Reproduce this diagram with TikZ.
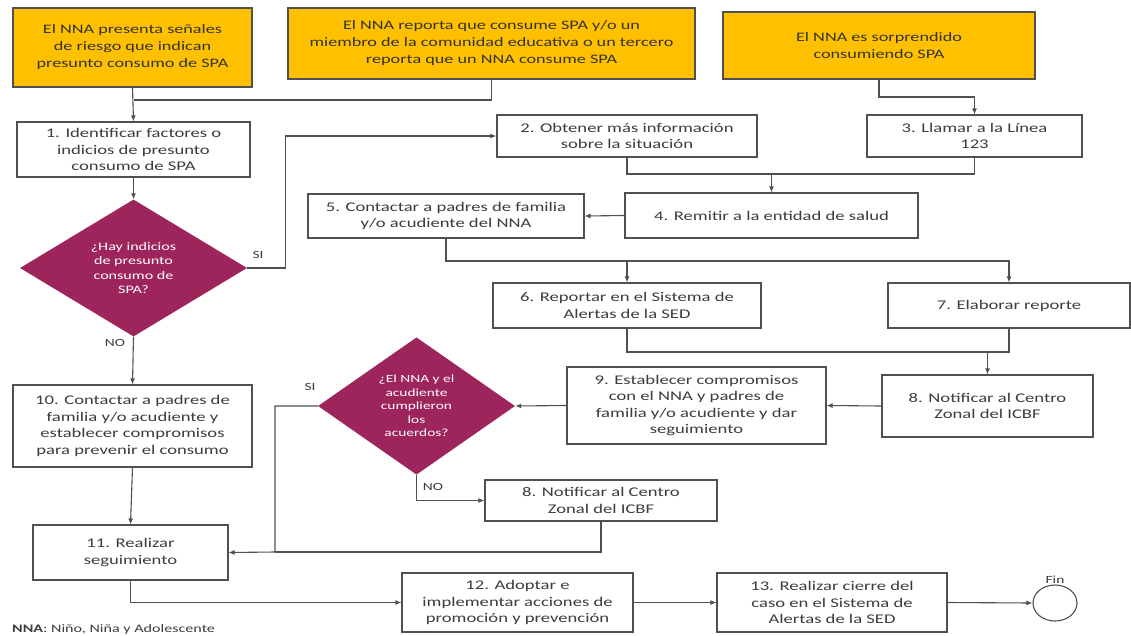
\documentclass[tikz,border=0pt]{standalone}
\usepackage{fontspec}
\setmainfont{Carlito}[FakeStretch=1.4]
\usetikzlibrary{shapes.geometric,arrows.meta}
\definecolor{gold}{RGB}{255,192,0}
\definecolor{plum}{RGB}{158,36,92}
\definecolor{linegray}{RGB}{80,80,80}
\definecolor{txt}{RGB}{60,60,60}
\tikzset{
  base/.style={draw=linegray, line width=1.1pt, align=center, inner sep=2pt, text=txt,
    font=\fontsize{13.3}{16.5}\selectfont},
  ybox/.style={base, fill=gold, text=black!80, font=\fontsize{13}{17}\selectfont},
  wbox/.style={base, fill=white},
  dec/.style={diamond, draw=none, fill=plum, text=white, align=center, inner sep=0pt},
  conn/.style={draw=linegray, line width=1.1pt},
  arr/.style={conn, -{Latex[length=6pt,width=5pt]}},
  lbl/.style={text=txt, font=\fontsize{11}{13}\selectfont},
}
\newcommand{\bx}[6]{\node[#1, minimum width=#4pt, minimum height=#5pt] (#2) at (#3) {#6};}
\begin{document}
\begin{tikzpicture}[x=1pt,y=-1pt]
\useasboundingbox (0,0) rectangle (1131,635);
% top boxes
\bx{ybox}{y1}{132.5,47.5}{239}{79}{El NNA presenta señales\\de riesgo que indican\\presunto consumo de SPA}
\bx{ybox}{y2}{491.5,43.5}{407}{71}{El NNA reporta que consume SPA y/o un\\miembro de la comunidad educativa o un tercero\\reporta que un NNA consume SPA}
\bx{ybox}{y3}{879,45.5}{312}{67}{El NNA es sorprendido\\consumiendo SPA}
% boxes
\bx{wbox}{b1}{133.5,149.5}{233}{55}{1. Identificar factores o\\indicios de presunto\\consumo de SPA}
\node[dec, minimum width=227pt, minimum height=123pt, font=\fontsize{11.5}{14.5}\selectfont] (d1) at (133.5,268) {¿Hay indicios\\de presunto\\consumo de\\SPA?};
\bx{wbox}{b2}{627,136}{260}{42}{2. Obtener más información\\sobre la situación}
\bx{wbox}{b3}{974.5,136}{215}{42}{3. Llamar a la Línea\\123}
\bx{wbox}{b4}{771.5,215.5}{293}{45}{4. Remitir a la entidad de salud}
\bx{wbox}{b5}{446,216}{276}{44}{5. Contactar a padres de familia\\y/o acudiente del NNA}
\bx{wbox}{b6}{627,305.5}{268}{45}{6. Reportar en el Sistema de\\Alertas de la SED}
\bx{wbox}{b7}{1009,305.5}{242}{45}{7. Elaborar reporte}
\bx{wbox}{b8a}{987.5,406}{211}{62}{8. Notificar al Centro\\Zonal del ICBF}
\bx{wbox}{b9}{696.5,405.5}{259}{77}{9. Establecer compromisos\\con el NNA y padres de\\familia y/o acudiente y dar\\seguimiento}
\node[dec, minimum width=197pt, minimum height=122pt, font=\fontsize{11}{13.5}\selectfont] (d2) at (416.5,406) {¿El NNA y el\\acudiente\\cumplieron\\los\\acuerdos?};
\bx{wbox}{b8b}{601,500.5}{232}{41}{8. Notificar al Centro\\Zonal del ICBF}
\bx{wbox}{b10}{132.5,426}{239}{82}{10. Contactar a padres de\\familia y/o acudiente y\\establecer compromisos\\para prevenir el consumo}
\bx{wbox}{b11}{130.5,552.5}{195}{55}{11. Realizar\\seguimiento}
\bx{wbox}{b12}{517.5,602.5}{231}{59}{12. Adoptar e\\implementar acciones de\\promoción y prevención}
\bx{wbox}{b13}{832,602.5}{230}{59}{13. Realizar cierre del\\caso en el Sistema de\\Alertas de la SED}
\node[ellipse, draw=linegray, line width=1.1pt, minimum width=44pt, minimum height=36pt, inner sep=0pt] (fin) at (1055,603) {};
\node[lbl, anchor=south, inner sep=1pt] (finl) at (fin.north) {Fin};
% junctions
\coordinate (j1) at (133.5,100);
\coordinate (j3a) at (879,97);
\coordinate (j2) at (771.5,174);
\coordinate (j3) at (627,261);
\coordinate (j4) at (987.5,352);
\coordinate (j5) at (275,552);
% connectors
\draw[arr] (y1.south) -- (b1.north);
\draw[conn] (y2.south) |- (j1);
\draw[arr] (y3.south) -- (j3a) -| (b3.north);
\draw[arr] (b1.south) -- (d1.north);
\draw[arr] (d1.east) -- ++(38,0) |- (b2.west);
\draw[conn] (b2.south) |- (j2);
\draw[conn] (b3.south) |- (j2);
\draw[arr] (j2) -- (b4.north);
\draw[arr] (b4.west) -- (b5.east);
\draw[arr] (b5.south) |- (j3) -| (b7.north);
\draw[arr] (j3) -- (b6.north);
\draw[conn] (b6.south) |- (j4);
\draw[conn] (b7.south) |- (j4);
\draw[arr] (j4) -- (b8a.north);
\draw[arr] (b8a.west) -- (b9.east);
\draw[arr] (b9.west) -- (d2.east);
\draw[arr] (d2.south) |- (b8b.west);
\draw[arr] (d2.west) -- (d2.west -| j5) -- (j5) -- (b11.east);
\draw[conn] (b8b.south) |- (j5);
\draw[arr] (d1.south) -- (b10.north);
\draw[arr] (b10.south) -- (b11.north);
\draw[arr] (b11.south) |- (b12.west);
\draw[arr] (b12.east) -- (b13.west);
\draw[arr] (b13.east) -- (fin.west);
% labels
\node[lbl] (si1) at (258,255) {SI};
\node[lbl] (no1) at (115,343) {NO};
\node[lbl] (si2) at (310,387) {SI};
\node[lbl] (no2) at (433,487) {NO};
\node[anchor=west, text=txt, font=\fontsize{11.5}{12}\selectfont, inner sep=0pt] (foot) at (12,629) {\textbf{NNA}: Niño, Niña y Adolescente};
\end{tikzpicture}
\end{document}
